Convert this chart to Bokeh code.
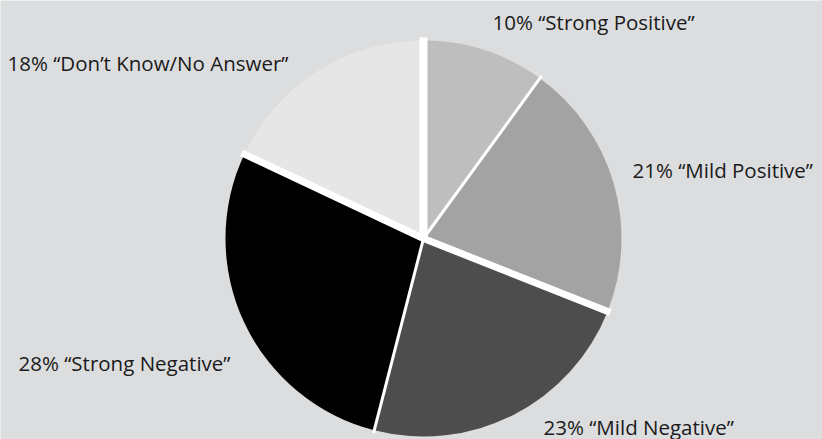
from bokeh.plotting import figure
from bokeh.models import Range1d, ColumnDataSource
from bokeh.core.properties import value
from bokeh.embed import file_html
from bokeh.resources import INLINE
import numpy as np

categories = ["Strong Positive", "Mild Positive", "Mild Negative", "Strong Negative", "Don’t Know/No Answer"]
percent = [10, 21, 23, 28, 18]
colors = ["#bebebe", "#a3a3a3", "#4d4d4d", "#000000", "#e6e6e6"]

# layout (pixel-like data coordinates, y up from the bottom of the page)
W, H = 822, 439
cx, cy, r = 423, H - 238, 198
label_x = [492, 632, 543, 18, 7]
label_mid = [21, 169, 426, 362, 62]   # vertical centres of the labels, from top
gap_widths = [3, 7, 3, 7, 8]  # white gap after each slice (clockwise)

vals = np.array(percent, dtype=float)
cum = np.concatenate([[0], np.cumsum(vals)]) / vals.sum()
start = np.radians(90 - cum[:-1] * 360)
end = np.radians(90 - cum[1:] * 360)

p = figure(width=W, height=H, output_backend="svg", toolbar_location=None,
           x_range=Range1d(0, W), y_range=Range1d(0, H), min_border=0)
p.axis.visible = False
p.grid.visible = False
p.outline_line_color = None
p.background_fill_color = "#dcdddf"
p.border_fill_color = "#dcdddf"

src = ColumnDataSource(dict(start=start, end=end, color=colors))
p.wedge(x=cx, y=cy, radius=r, start_angle="start", end_angle="end",
        direction="clock", fill_color="color", line_color=None, source=src)

# white separators along slice boundaries
for ang, w in zip(end, gap_widths):
    p.line([cx, cx + (r + 3) * np.cos(ang)], [cy, cy + (r + 3) * np.sin(ang)],
           line_color="white", line_width=w)

texts = [f"{v}% “{c}”" for v, c in zip(percent, categories)]
p.text(x=label_x, y=[H - b for b in label_mid], text=texts, text_font=value("Open Sans"),
       text_font_size="20.5px", text_baseline="middle", text_align="left", text_color="#1a1a1a")

open("out.html", "w").write(file_html(p, INLINE))
